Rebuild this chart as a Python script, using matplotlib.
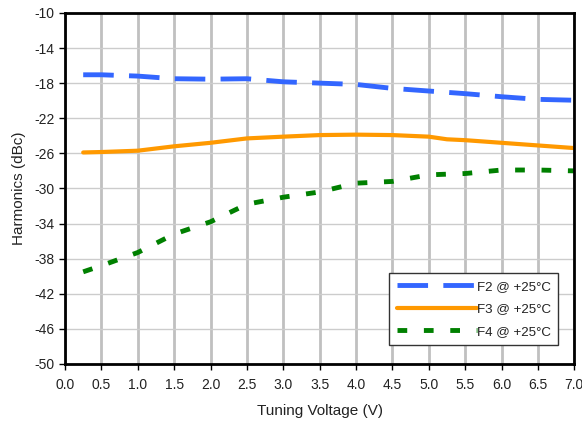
import matplotlib
matplotlib.use('Agg')
import matplotlib.pyplot as plt
import numpy as np

plt.rcParams['font.family'] = ['Liberation Sans', 'DejaVu Sans']
plt.rcParams['axes.unicode_minus'] = False
plt.rcParams['lines.scale_dashes'] = False

# tuning voltage (V)
v_f2 = [0.25, 0.5, 1.0, 1.5, 2.0, 2.5, 3.0, 3.5, 4.0, 4.5, 5.0, 5.5, 6.0, 6.5, 7.0]
f2 = [-17.05, -17.05, -17.2, -17.5, -17.55, -17.5, -17.85, -18.0, -18.15, -18.6, -18.9, -19.2, -19.55, -19.85, -19.95]

v_f3 = [0.25, 0.5, 1.0, 1.5, 2.0, 2.5, 3.0, 3.5, 4.0, 4.5, 5.0, 5.25, 5.5, 6.0, 6.5, 7.0]
f3 = [-25.9, -25.85, -25.7, -25.2, -24.8, -24.3, -24.1, -23.92, -23.87, -23.92, -24.1, -24.4, -24.5, -24.8, -25.1, -25.4]

v_f4 = [0.25, 0.5, 1.0, 1.5, 2.0, 2.5, 3.0, 3.5, 4.0, 4.5, 5.0, 5.5, 6.0, 6.5, 7.0]
f4 = [-39.5, -38.8, -37.3, -35.2, -33.8, -31.8, -31.0, -30.4, -29.4, -29.2, -28.45, -28.3, -27.9, -27.9, -28.0]

labels = ['F2 @ +25°C', 'F3 @ +25°C', 'F4 @ +25°C']

fig = plt.figure(figsize=(5.82, 4.23), dpi=100)
ax = fig.add_axes([0.1117, 0.1395, 0.875, 0.83])

ax.plot(v_f2, f2, color='#3366ff', lw=3.5, dashes=(22, 11), label=labels[0])
ax.plot(v_f3, f3, color='#ff9900', lw=3.0, solid_capstyle='round', label=labels[1])
ax.plot(v_f4, f4, color='#008000', lw=3.5, dashes=(7, 12), label=labels[2])

ax.set_xlim(0, 7)
ax.set_ylim(-50, -10)
ax.set_xticks(np.arange(0, 7.01, 0.5))
ax.set_yticks(np.arange(-50, -9, 4))
ax.set_xticklabels(['%.1f' % t for t in np.arange(0, 7.01, 0.5)])

ax.xaxis.grid(True, color='#c0c0c0', lw=2)
ax.yaxis.grid(True, color='#cccccc', lw=1)
ax.set_axisbelow(True)

for s in ax.spines.values():
    s.set_linewidth(2)
    s.set_color('black')

ax.tick_params(direction='out', length=4, width=1, labelsize=10, colors='black',
               labelcolor='#222222')
ax.tick_params(axis='x', pad=6)
ax.set_xlabel('Tuning Voltage (V)', fontsize=11, labelpad=9, color='#222222')
ax.set_ylabel('Harmonics (dBc)', fontsize=11, labelpad=6, color='#222222')

leg = ax.legend(loc='lower right', bbox_to_anchor=(0.9686, 0.054), borderaxespad=0,
                fontsize=9.6, handlelength=6.0, handletextpad=0, fancybox=False,
                edgecolor='#333333', framealpha=1, borderpad=0.55, labelspacing=0.75)
leg.get_frame().set_linewidth(1)
for t in leg.get_texts():
    t.set_color('#222222')

fig.savefig('out.png', dpi=100)
